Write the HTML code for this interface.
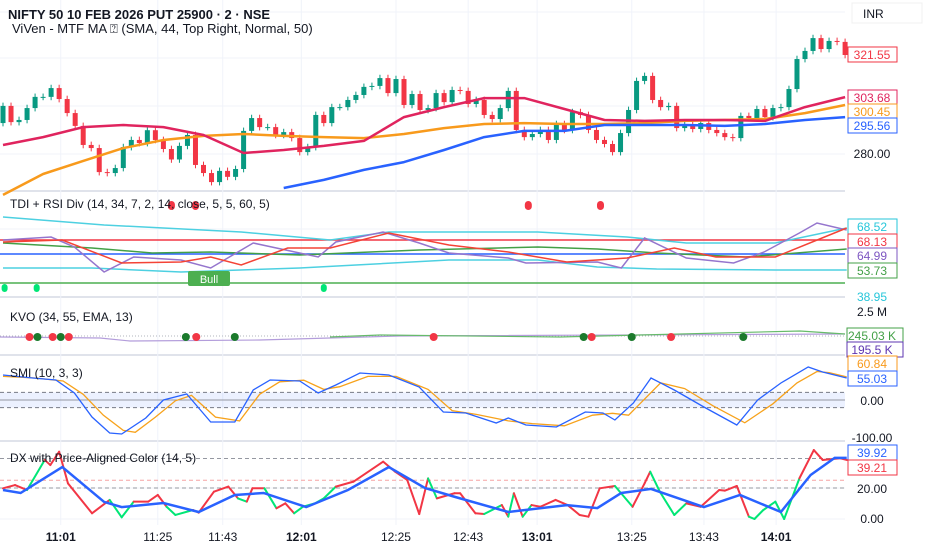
<!DOCTYPE html>
<html><head><meta charset="utf-8">
<style>
html,body{margin:0;padding:0;background:#fff;}
body{width:932px;height:550px;overflow:hidden;font-family:"Liberation Sans",sans-serif;}
svg{display:block}
</style></head>
<body>
<svg id="chart" width="932" height="550" xmlns="http://www.w3.org/2000/svg" font-family="Liberation Sans, sans-serif">
<rect width="932" height="550" fill="#fff"/>
<g id="grid"></g>
<g id="main"></g>
<g id="tdi"></g>
<g id="kvo"></g>
<g id="smi"></g>
<g id="dx"></g>
<g id="labels">
<text x="8" y="19" font-size="13" font-weight="bold" fill="#131722">NIFTY 50 10 FEB 2026 PUT 25900 · 2 · NSE</text>
<text x="12" y="33" font-size="13" fill="#131722">ViVen - MTF MA ⍰ (SMA, 44, Top Right, Normal, 50)</text>
<text x="10" y="208" font-size="12" fill="#131722">TDI + RSI Div (14, 34, 7, 2, 14, close, 5, 5, 60, 5)</text>
<text x="10" y="321" font-size="12" fill="#131722">KVO (34, 55, EMA, 13)</text>
<text x="10" y="377" font-size="12" fill="#131722">SMI (10, 3, 3)</text>
<text x="10" y="462" font-size="12" fill="#131722">DX with Price-Aligned Color (14, 5)</text>
<rect x="852" y="3" width="70" height="20" fill="#fff" stroke="#f0f0f0"/>
<text x="863" y="18" font-size="12" fill="#131722">INR</text>
</g>
<g id="axis"></g>
<g id="time"></g>
</svg>
<script>
// ---------- DATA ----------
const closes=[300.2,293.4,294.3,299.3,304.0,304.0,307.7,303.1,297.2,291.8,283.8,282.5,272.4,272.0,274.1,282.9,285.9,284.6,290.0,285.9,282.1,277.7,283.4,288.0,275.4,272.0,268.2,272.9,270.4,273.7,289.7,295.1,291.3,291.3,288.0,289.2,286.7,280.8,282.9,296.4,293.0,299.7,299.7,302.7,304.8,308.2,308.6,311.9,305.6,311.5,300.6,305.2,298.5,299.3,305.6,301.8,306.9,306.5,301.0,302.7,296.4,294.7,299.3,306.5,290.1,287.1,288.4,290.1,285.9,292.6,290.1,297.6,296.4,290.1,285.9,284.2,280.8,288.8,298.5,310.7,312.8,302.7,299.7,300.2,290.9,292.6,290.5,293.0,290.1,288.8,287.1,286.7,296.0,295.1,298.9,295.5,299.3,299.7,307.3,319.9,323.3,328.7,324.1,327.5,327.1,321.6];
const firstOpen=293.0;
const maIdx=[0,5,10,15,20,25,30,35,40,45,50,55,60,65,70,75,80,85,90,95,100,105];
const maPink=[283.8,287.1,291.3,292.2,291.3,288.0,280.4,281.7,283.4,285.5,295.5,299.7,303.5,303.5,298.9,294.3,293.9,294.3,294.3,293.9,299.7,303.9];
const maOrange=[262.8,271.6,277.1,282.5,285.9,287.6,288.4,287.6,287.1,286.7,288.4,290.9,292.6,293.0,292.6,292.6,293.0,293.9,294.3,294.7,297.2,300.6];
const maBlueIdx=[35,40,45,50,55,60,65,70,75,80,85,90,95,100,105];
const maBlue=[265.7,269.1,273.3,276.6,281.7,287.1,289.7,289.7,292.2,292.2,292.2,291.8,292.6,294.3,295.5];
const priceTicks=[280];
// TDI
const tdiUpIdx=[0,12.6,29.7,40.8,48.1,66.7,77.8,85.2,96.3,105.2];
const tdiUp=[87,79,72,64,72,72,67,61,61,76];
const tdiLoIdx=[0,11.1,22.2,37,55.6,66.7,74.1,81.5,96.3,105.2];
const tdiLo=[36,36,32,36,44,44,37,35,34,34];
const tdiGreenIdx=[0,11.1,18.6,25.9,37,51.9,66.7,74.1,81.5,92.6,105.2];
const tdiGreen=[61,56,51,52,49,54,57,55,51,47,55];
const tdiRedIdx=[0,7.4,14.8,22.2,25.9,29.7,35.5,40.8,48.1,55.6,63,70.3,77.8,83.7,88.9,96.3,105.2];
const tdiRed=[62,64,41,42,47,39,56,56,71,59,52,42,46,56,47,47,76];
const tdiRsiIdx=[0,6,8.9,12.6,16.3,22.2,25.9,31.2,39.3,41.5,47.4,51.9,55.6,63,65.2,74.1,77.1,80,85.2,91.1,94.9,99.3,101.5,105.2];
const tdiRsi=[64,67,57,32,47,44,36,61,47,62,72,61,51,46,41,42,36,66,46,41,52,71,81,74];
const tdiBearIdx=[21,24,65.5,74.5];
const tdiBullIdx=[0.2,4.2,40];
// KVO
const kvoRedIdx=[3.3,6.2,8.2,24.1,53.7,73.4,83.3];
const kvoGreenIdx=[4.3,7.2,22.8,28.9,72.4,78.4,92.3];
// SMI
const smiIdx=[0,3.7,6.6,8.9,11.1,13.3,14.8,17.8,20,22.9,25.9,28.9,31.2,33.3,37,39.3,41.5,44.5,48.1,51.9,54.9,57.7,61.5,63,65.2,69,72.6,74.8,76.3,78.6,80.8,83.7,87.4,91.5,94.1,97,100.4,102.2,105.2];
const smiVals=[65.8,57.9,52.6,18.4,-44.7,-86.8,-89.5,-47.4,0,15.8,-57.9,-57.9,26.3,52.6,50,18.4,39.5,71,65.8,34.2,-31.6,-34.2,-60.5,-47.4,-65.8,-71,-31.6,-34.2,-52.6,-7.9,57.9,26.3,-18.4,-65.8,0,44.7,86.8,73.7,57.9];
const smiSigIdx=[0,4,7.5,10,12.5,15,16.5,19,21.5,23.5,26.5,29.5,32,34.5,37.5,40,42,45.5,49,53,56,59,63,66,70,73.5,76,78,82,85,88.5,92.5,96,99,101.5,103,105.2];
const smiSig=[62,58,50,15,-40,-80,-85,-45,-2,12,-45,-55,15,48,52,28,35,62,62,28,-28,-38,-55,-62,-68,-40,-35,-40,45,30,-15,-60,-10,45,75,72,60.8];
// DX
const dxIdx=[0,1.5,3,5.2,5.9,7,8.1,11.1,13.3,14.8,16.3,18.1,19.3,20.4,21.5,23.7,24.4,26.3,28.1,29.3,30.4,31.1,32.6,34.1,35.2,36.3,37.4,38.9,40,41.5,43.7,47.4,48.9,50.4,51.9,53,54.1,56.3,57,58.9,60,62.2,63,63.7,64.8,65.9,67,68.9,70.4,71.9,73,74.4,76.3,78.5,80,80.7,81.9,83.7,85.2,87,89.3,90,91.5,93,93.7,94.8,96.3,97.4,99.3,101.1,102.2,104.4,105.2];
const dxVals=[19.8,21.9,18.7,38.1,34.8,43.4,23.0,3.7,12.3,1.1,11.2,11.2,15.5,7.9,2.6,5.8,4.1,17.6,20.9,13.3,11.2,19.8,19.8,6.9,10.1,3.7,7.9,10.1,13.3,20.9,24.1,37.0,30.5,25.2,3.2,26.2,13.3,16.6,16.6,3.7,3.2,9.0,1.5,16.6,1.5,9.0,7.9,12.3,9.0,2.6,1.5,19.8,21.3,7.9,23.0,30.5,17.6,2.6,10.1,7.9,18.7,18.3,21.3,1.5,0,5.8,11.2,0,26.2,44.5,38.1,39.2,38.1];
const dxColors="rrgrrrrrggrrrggrrrrgrrgrrggggrrrrrrgrrrrgrgrgrrrrrrrgrrgggrrrrrgggggrrrrr";
const dxSmIdx=[0,2.2,7.4,12.6,14.8,20,24.4,28.9,32.5,37.8,43,48.1,52.6,56.4,63,70.3,74.1,77.1,80.8,87.4,91.9,97,100.7,103.7,105.2];
const dxSm=[18.7,16.8,33.5,11,7.7,10.3,4.5,15.5,16.8,7.7,18.7,33.5,20,14.2,4.5,9,7,16.8,19.4,7.7,15.5,4.5,28.4,39.4,39.4];
const timeLabels=["11:01","11:25","11:43","12:01","12:25","12:43","13:01","13:25","13:43","14:01"];
const timeIdx=[7.2,19.3,27.4,37.2,49,58,66.6,78.4,87.4,96.4];
const timeBold=[1,0,0,1,0,0,1,0,0,1];

// ---------- SCALES ----------
const NS="http://www.w3.org/2000/svg";
const X=i=>3+i*8.02;
const Yp=p=>154-(p-280)*2.38;
const Yt=v=>304-v;
const Ys=v=>400-v*0.38;
const Yd=v=>519-v*1.55;
function mk(tag,attrs,parent){const e=document.createElementNS(NS,tag);for(const k in attrs)e.setAttribute(k,attrs[k]);parent.appendChild(e);return e;}
function pathD(ix,vals,yf,step){let d="";for(let i=0;i<vals.length;i++){const x=X(ix[i]).toFixed(1),y=yf(vals[i]).toFixed(1);if(i==0)d+="M"+x+" "+y;else if(step)d+="H"+x+"V"+y;else d+="L"+x+" "+y;}return d;}

// ---------- GRID ----------
const grid=document.getElementById('grid');
[12,58,106,154,191,229,297,355,441,488,519].forEach(y=>{
 const l=mk('line',{x1:0,x2:845,y1:y,y2:y,stroke:(y==191||y==297||y==355||y==441)?'#e0e3eb':'#f0f3fa','stroke-width':(y==191||y==297||y==355||y==441)?2:1},grid);
 
 
});
timeIdx.forEach(t=>{
 const l=mk('line',{x1:X(t),x2:X(t),y1:0,y2:525,stroke:'#f0f3fa'},grid);
 
 
});

// ---------- MAIN ----------
const main=document.getElementById('main');
closes.forEach((c,i)=>{
 const o=i==0?firstOpen:closes[i-1];
 const up=c>=o, col=up?'#089981':'#f23645';
 const hi=Math.max(o,c)+1.4, lo=Math.min(o,c)-1.4;
 const w=mk('line',{x1:X(i),x2:X(i),y1:Yp(hi),y2:Yp(lo),stroke:col,'stroke-width':1},main);
 
 
 const top=Yp(Math.max(o,c)), h=Math.max(1,Yp(Math.min(o,c))-top);
 const b=mk('rect',{x:X(i)-2.5,y:top,width:5,height:h,fill:col},main);
 
 
});
[[maIdx,maOrange,'#f89a1c','ma-orange'],[maBlueIdx,maBlue,'#2962ff','ma-blue'],[maIdx,maPink,'#e0245e','ma-pink']].forEach(([ix,v,c,n])=>{
 const p=mk('path',{d:pathD(ix,v,Yp,0),fill:'none',stroke:c,'stroke-width':2.5,'stroke-linejoin':'round'},main);
 
 
});

// ---------- TDI ----------
const tdi=document.getElementById('tdi');
[[64,'#f23645'],[50,'#2962ff'],[21,'#4caf50']].forEach(([v,c])=>{
 const l=mk('line',{x1:0,x2:845,y1:Yt(v),y2:Yt(v),stroke:c,'stroke-width':1.5},tdi);
 
 
});
[[tdiUpIdx,tdiUp,'#4dd0e1',0,'tdi-upper-band'],[tdiLoIdx,tdiLo,'#4dd0e1',0,'tdi-lower-band'],[tdiGreenIdx,tdiGreen,'#43a047',0,'tdi-midline'],[tdiRsiIdx,tdiRsi,'#9575cd',0,'tdi-rsi-line'],[tdiRedIdx,tdiRed,'#f44336',0,'tdi-signal-line']].forEach(([ix,v,c,s,n])=>{
 const p=mk('path',{d:pathD(ix,v,Yt,s),fill:'none',stroke:c,'stroke-width':1.5},tdi);
 
 
});
tdiBearIdx.forEach(t=>{const e=mk('rect',{x:X(t)-3.5,y:201,width:7,height:9,rx:3.5,fill:'#f23645'},tdi);
 
 });
tdiBullIdx.forEach(t=>{const e=mk('rect',{x:X(t)-3,y:284,width:6,height:8,rx:3,fill:'#00e676'},tdi);
 
 });
const bull=mk('rect',{x:188,y:271,width:42,height:15,rx:2,fill:'#4caf50'},tdi);


const bt=mk('text',{x:209,y:283,'font-size':11,fill:'#fff','text-anchor':'middle'},tdi);bt.textContent='Bull';



// ---------- KVO ----------
const kvo=document.getElementById('kvo');
const kl=mk('line',{x1:0,x2:845,y1:336,y2:336,stroke:'#b2b5be','stroke-dasharray':'1 2'},kvo);


const kp=mk('path',{d:'M0 337 L100 338 L130 341 L260 340 L400 336 L845 334',fill:'none',stroke:'#b39ddb','stroke-width':1.2},kvo);


const kg=mk('path',{d:'M330 337 L380 335 L560 337 L600 336 L800 331 L845 334',fill:'none',stroke:'#66bb6a','stroke-width':1.2},kvo);


kvoGreenIdx.forEach(t=>{const e=mk('circle',{cx:X(t),cy:337,r:4,fill:'#1b7a2c'},kvo);
 
 });
kvoRedIdx.forEach(t=>{const e=mk('circle',{cx:X(t),cy:337,r:4,fill:'#f23645'},kvo);
 
 });

// ---------- SMI ----------
const smi=document.getElementById('smi');
const band=mk('rect',{x:0,y:Ys(20),width:845,height:Ys(-20)-Ys(20),fill:'#2962ff','fill-opacity':0.09},smi);


[20,-20].forEach(v=>{const l=mk('line',{x1:0,x2:845,y1:Ys(v),y2:Ys(v),stroke:'#787b86','stroke-dasharray':'4 3','stroke-width':1},smi);
 
 });
const zl=mk('line',{x1:0,x2:845,y1:Ys(0),y2:Ys(0),stroke:'#9598a1','stroke-width':1},smi);


const so=mk('path',{d:pathD(smiSigIdx,smiSig,Ys,0),fill:'none',stroke:'#f7a21b','stroke-width':1.3},smi);


const sb=mk('path',{d:pathD(smiIdx,smiVals,Ys,0),fill:'none',stroke:'#2962ff','stroke-width':1.3},smi);



// ---------- DX ----------
const dx=document.getElementById('dx');
[[39,'#9598a1'],[25,'#f5a3a3'],[20,'#9598a1']].forEach(([v,c])=>{const l=mk('line',{x1:0,x2:845,y1:Yd(v),y2:Yd(v),stroke:c,'stroke-dasharray':'4 3'},dx);
 
 });
for(let i=0;i<dxVals.length-1;i++){
 const c=dxColors[i]=='g'?'#00e676':'#f23645';
 const s=mk('line',{x1:X(dxIdx[i]),y1:Yd(dxVals[i]),x2:X(dxIdx[i+1]),y2:Yd(dxVals[i+1]),stroke:c,'stroke-width':2,'stroke-linecap':'round'},dx);
 
 
}
const ds=mk('path',{d:pathD(dxSmIdx,dxSm,Yd,0),fill:'none',stroke:'#2962ff','stroke-width':2.5},dx);



// ---------- PRICE AXIS LABELS ----------
const axis=document.getElementById('axis');
function tag(y,txt,col,name,boxed){
 if(boxed){const r=mk('rect',{x:848,y:y-8,width:49,height:15,fill:'#fff',stroke:col,'stroke-width':1},axis);
  
  }
 const t=mk('text',{x:872,y:y+4,'font-size':12,fill:col,'text-anchor':'middle'},axis);t.textContent=txt;
 
 
}
tag(Yp(closes[closes.length-1]),'321.55','#f23645','last-price-label',1);
tag(98,'303.68','#e0245e','ma-pink-label',1);
tag(112,'300.45','#f89a1c','ma-orange-label',1);
tag(126,'295.56','#2962ff','ma-blue-label',1);
priceTicks.forEach(p=>tag(Yp(p),p.toFixed(2),'#131722','price-tick',0));
tag(227,'68.52','#26c6da','tdi-upper-label',1);
tag(242,'68.13','#f23645','tdi-signal-label',1);
tag(256,'64.99','#7e57c2','tdi-rsi-label',1);
tag(271,'53.73','#43a047','tdi-mid-label',1);
tag(297,'38.95','#26c6da','tdi-lower-label',0);
tag(312,'2.5 M','#131722','kvo-scale-label',0);
const kb1=mk('rect',{x:847,y:328,width:56,height:15,fill:'#fff',stroke:'#43a047'},axis);


const kb2=mk('rect',{x:847,y:342,width:56,height:15,fill:'#fff',stroke:'#5e35b1'},axis);


tag(336,'245.03 K','#43a047','kvo-value-label',0);
tag(350,'195.5 K','#5e35b1','kvo-signal-label',0);
tag(364,'60.84','#f89a1c','smi-signal-label',1);
tag(379,'55.03','#2962ff','smi-value-label',1);
tag(401,'0.00','#131722','smi-zero-tick',0);
tag(438,'-100.00','#131722','smi-min-tick',0);
tag(453,'39.92','#2962ff','dx-smooth-label',1);
tag(468,'39.21','#f23645','dx-value-label',1);
tag(489,'20.00','#131722','dx-tick-20',0);
tag(519,'0.00','#131722','dx-tick-0',0);

// ---------- TIME AXIS ----------
const time=document.getElementById('time');
timeLabels.forEach((s,i)=>{
 const t=mk('text',{x:X(timeIdx[i]),y:541,'font-size':12,'font-weight':timeBold[i]?'bold':'normal',fill:'#131722','text-anchor':'middle'},time);
 t.textContent=s;
 
 
});
</script>
</body></html>
